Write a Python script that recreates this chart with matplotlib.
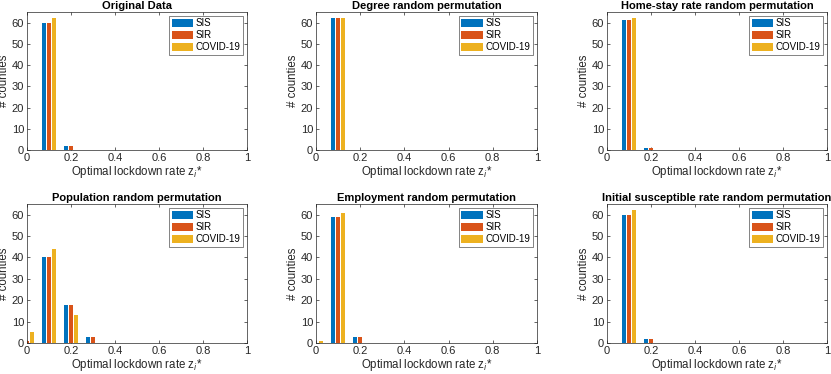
import numpy as np
import matplotlib.pyplot as plt

plt.rcParams['font.family'] = ['Liberation Sans', 'DejaVu Sans']

# bin centres of the histogram
bins = [0.0, 0.1, 0.2, 0.3, 0.4, 0.5, 0.6, 0.7, 0.8, 0.9, 1.0]
models = ["SIS", "SIR", "COVID-19"]
colors = ["#0072BD", "#D95319", "#EDB120"]

titles = [
    "Original Data",
    "Degree random permutation",
    "Home-stay rate random permutation",
    "Population random permutation",
    "Employment random permutation",
    "Initial susceptible rate random permutation",
]

# counts per bin, one list per model (SIS, SIR, COVID-19)
original_sis = [0, 60, 2, 0, 0, 0, 0, 0, 0, 0, 0]
original_sir = [0, 60, 2, 0, 0, 0, 0, 0, 0, 0, 0]
original_cov = [0, 62, 0, 0, 0, 0, 0, 0, 0, 0, 0]

degree_sis = [0, 62, 0, 0, 0, 0, 0, 0, 0, 0, 0]
degree_sir = [0, 62, 0, 0, 0, 0, 0, 0, 0, 0, 0]
degree_cov = [0, 62, 0, 0, 0, 0, 0, 0, 0, 0, 0]

home_sis = [0, 61, 1, 0, 0, 0, 0, 0, 0, 0, 0]
home_sir = [0, 61, 1, 0, 0, 0, 0, 0, 0, 0, 0]
home_cov = [0, 62, 0, 0, 0, 0, 0, 0, 0, 0, 0]

pop_sis = [1, 40, 18, 3, 0, 0, 0, 0, 0, 0, 0]
pop_sir = [1, 40, 18, 3, 0, 0, 0, 0, 0, 0, 0]
pop_cov = [5, 44, 13, 0, 0, 0, 0, 0, 0, 0, 0]

emp_sis = [0, 59, 3, 0, 0, 0, 0, 0, 0, 0, 0]
emp_sir = [0, 59, 3, 0, 0, 0, 0, 0, 0, 0, 0]
emp_cov = [1, 61, 0, 0, 0, 0, 0, 0, 0, 0, 0]

init_sis = [0, 60, 2, 0, 0, 0, 0, 0, 0, 0, 0]
init_sir = [0, 60, 2, 0, 0, 0, 0, 0, 0, 0, 0]
init_cov = [0, 62, 0, 0, 0, 0, 0, 0, 0, 0, 0]

panels = [
    (original_sis, original_sir, original_cov),
    (degree_sis, degree_sir, degree_cov),
    (home_sis, home_sir, home_cov),
    (pop_sis, pop_sir, pop_cov),
    (emp_sis, emp_sir, emp_cov),
    (init_sis, init_sir, init_cov),
]

W, H = 831, 374
fig = plt.figure(figsize=(W / 100, H / 100), dpi=100)

# axes boxes in pixels: (left, right) and (top, bottom)
col_x = [(27, 247), (316, 537), (607, 827)]
row_y = [(12, 150), (204, 343)]

axc = "#262626"
offset = 0.0222
width = 0.019

for k, (title, series) in enumerate(zip(titles, panels)):
    r, c = divmod(k, 3)
    x0, x1 = col_x[c]
    y0, y1 = row_y[r]
    ax = fig.add_axes([x0 / W, 1 - y1 / H, (x1 - x0) / W, (y1 - y0) / H])
    x = np.array(bins)
    for j, (vals, col, name) in enumerate(zip(series, colors, models)):
        ax.bar(x + (j - 1) * offset, vals, width=width, color=col,
               edgecolor="none", label=name, zorder=2)
    # faint baseline left by zero-height bars
    ax.plot([0.25, 1.0], [0, 0], color="#cccccc", lw=0.6, zorder=1)

    ax.set_xlim(0, 1)
    ax.set_ylim(0, 65)
    ax.set_xticks([0, 0.2, 0.4, 0.6, 0.8, 1])
    ax.set_xticklabels(["0", "0.2", "0.4", "0.6", "0.8", "1"])
    ax.set_yticks([0, 10, 20, 30, 40, 50, 60])
    ax.tick_params(direction="in", length=2.5, width=0.5, labelsize=8,
                   colors=axc, top=True, right=True, pad=2)
    for s in ax.spines.values():
        s.set_linewidth(0.5)
        s.set_color(axc)
    ax.set_title(title, fontsize=8, fontweight="bold", pad=2, color="black")
    ax.set_xlabel("Optimal lockdown rate z$_i$*", fontsize=8.3, color=axc, labelpad=1)
    ax.set_ylabel("# counties", fontsize=8.3, color=axc, labelpad=1)
    leg = ax.legend(loc="upper right", fontsize=7, frameon=True, fancybox=False,
                    handlelength=2.2, handleheight=0.9, handletextpad=0.3,
                    borderpad=0.25, labelspacing=0.2, borderaxespad=0.4)
    leg.get_frame().set_edgecolor(axc)
    leg.get_frame().set_linewidth(0.5)

fig.savefig("out.png", dpi=100)
